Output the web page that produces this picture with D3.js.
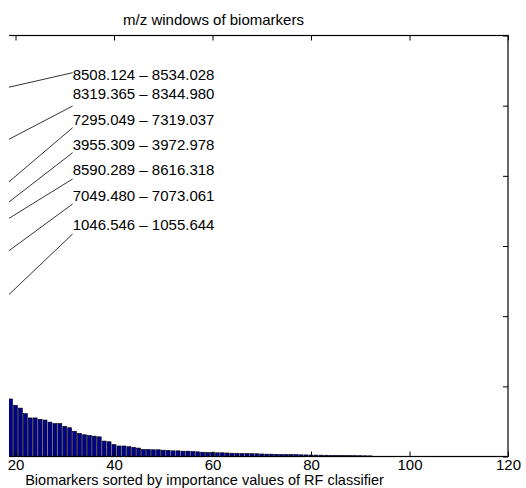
<!DOCTYPE html>
<html>
<head>
<meta charset="utf-8">
<script src="https://cdn.jsdelivr.net/npm/d3@7"></script>
<style>
  body { margin: 0; background: #fff; }
  svg { display: block; font-family: "Liberation Sans", Arial, Helvetica, sans-serif; }
  .axis text { font-size: 15px; fill: #000; }
  .axis path, .axis line { stroke: #000; }
</style>
</head>
<body>
<div id="chart"></div>
<script>
// importance values, sorted, rank 1..92
const importance = [
  0.0498, 0.0391, 0.0298, 0.0283, 0.0280, 0.0228, 0.0153, 0.0140, 0.0130, 0.0122,
  0.0115, 0.0110, 0.0105, 0.0100, 0.0096, 0.0092, 0.0089, 0.0086, 0.0082, 0.0073,
  0.0069, 0.0061, 0.0055, 0.0055, 0.0053, 0.0052, 0.0049, 0.0047, 0.0047, 0.0043,
  0.0041, 0.0036, 0.0033, 0.0031, 0.0030, 0.0029, 0.0028, 0.0022, 0.0021, 0.0017,
  0.0015, 0.0015, 0.0014, 0.0013, 0.0012, 0.0010, 0.0010, 0.00096, 0.00096, 0.0009,
  0.00086, 0.00081, 0.00081, 0.00076, 0.00076, 0.00071, 0.00067, 0.00061, 0.00057, 0.00057,
  0.00053, 0.00053, 0.0005, 0.00047, 0.00046, 0.00043, 0.00043, 0.0004, 0.00039, 0.00036,
  0.00034, 0.00033, 0.00031, 0.00029, 0.00029, 0.00027, 0.00026, 0.00024, 0.00023, 0.00021,
  0.0002, 0.00019, 0.00018, 0.00017, 0.00016, 0.00015, 0.00014, 0.00013, 0.00012, 0.00011,
  0.0001, 0.00009
];

const windowLabels = [
  "8508.124 \u2013 8534.028",
  "8319.365 \u2013 8344.980",
  "7295.049 \u2013 7319.037",
  "3955.309 \u2013 3972.978",
  "8590.289 \u2013 8616.318",
  "7049.480 \u2013 7073.061",
  "1046.546 \u2013 1055.644"
];

const xTicks = [0, 20, 40, 60, 80, 100, 120];
const yTicks = [0, 0.01, 0.02, 0.03, 0.04, 0.05, 0.06];

// annotation placement (data units)
const labelX = 31.6;
const labelTextY = [0.05437, 0.05166, 0.04806, 0.04449, 0.04083, 0.03717, 0.03299];
const labelLineY = [0.05470, 0.04995, 0.04686, 0.04330, 0.03955, 0.03599, 0.03171];

const W = 526, H = 488;
const margin = { top: 35.5, left: -83, right: 18, bottom: 31.5 };
const width = W - margin.left - margin.right;
const height = H - margin.top - margin.bottom;

const svg = d3.select("#chart").append("svg")
  .attr("width", W)
  .attr("height", H);

const x = d3.scaleLinear().domain([0, 120]).range([0, width]);
const y = d3.scaleLinear().domain([0, 0.06]).range([height, 0]);

const g = svg.append("g")
  .attr("transform", `translate(${margin.left},${margin.top})`);

// the visible area starts at x = 9 in the figure
svg.append("defs").append("clipPath").attr("id", "vis")
  .append("rect")
  .attr("x", 9 - margin.left).attr("y", -5)
  .attr("width", width).attr("height", height + 10);

const plot = g.append("g").attr("clip-path", "url(#vis)");

const bw = x(0.8) - x(0);
plot.selectAll(".bar")
  .data(importance)
  .enter().append("rect")
  .attr("class", "bar")
  .attr("x", (d, i) => x(i + 1) - bw / 2)
  .attr("y", d => y(d))
  .attr("width", bw)
  .attr("height", d => y(0) - y(d))
  .attr("fill", "#00008f")
  .attr("stroke", "#000")
  .attr("stroke-width", 0.6);

// leader lines from top bars to their m/z labels
plot.selectAll(".leader")
  .data(windowLabels)
  .enter().append("line")
  .attr("class", "leader")
  .attr("x1", (d, i) => x(i + 1))
  .attr("y1", (d, i) => y(importance[i]))
  .attr("x2", x(labelX))
  .attr("y2", (d, i) => y(labelLineY[i]))
  .attr("stroke", "#000")
  .attr("stroke-width", 0.8);

g.selectAll(".wlabel")
  .data(windowLabels)
  .enter().append("text")
  .attr("class", "wlabel")
  .attr("x", x(labelX))
  .attr("y", (d, i) => y(labelTextY[i]))
  .attr("dy", "0.35em")
  .style("font-size", "15px")
  .text(d => d);

// axes, ticks inside like the box of the original
const axes = plot.append("g");
axes.append("g").attr("class", "axis")
  .attr("transform", `translate(0,${height})`)
  .call(d3.axisBottom(x).tickValues(xTicks).tickSizeInner(-5).tickSizeOuter(0).tickFormat(""));
axes.append("g").attr("class", "axis")
  .call(d3.axisTop(x).tickValues(xTicks).tickSizeInner(-5).tickSizeOuter(0).tickFormat(""));
axes.append("g").attr("class", "axis")
  .attr("transform", `translate(${width},0)`)
  .call(d3.axisRight(y).tickValues(yTicks).tickSizeInner(-5).tickSizeOuter(0).tickFormat(""));
axes.append("g").attr("class", "axis")
  .call(d3.axisLeft(y).tickValues(yTicks).tickSizeInner(-5).tickSizeOuter(0).tickFormat(""));
axes.selectAll(".domain").remove();
axes.append("rect")
  .attr("width", width).attr("height", height)
  .attr("fill", "none").attr("stroke", "#000").attr("stroke-width", 1.2);

// bottom tick labels (0 lies outside the visible figure)
g.append("g").attr("class", "axis")
  .attr("transform", `translate(0,${height})`)
  .call(d3.axisBottom(x).tickValues(xTicks.filter(t => x(t) + margin.left > 0)).tickSize(0).tickPadding(3))
  .call(s => s.select(".domain").remove());

g.append("text")
  .attr("x", width / 2 - 8)
  .attr("y", height + 28.5)
  .attr("text-anchor", "middle")
  .style("font-size", "14.5px")
  .text("Biomarkers sorted by importance values of RF classifier");

g.append("text")
  .attr("x", width / 2 + 1)
  .attr("y", -10.5)
  .attr("text-anchor", "middle")
  .style("font-size", "15px")
  .text("m/z windows of biomarkers");
</script>
</body>
</html>
